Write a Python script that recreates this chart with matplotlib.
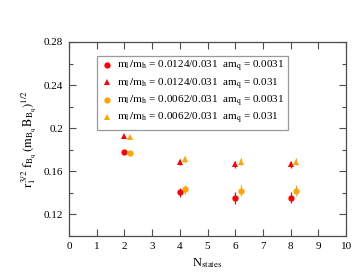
import numpy as np
import matplotlib
matplotlib.use("Agg")
import matplotlib.pyplot as plt
from matplotlib.ticker import MultipleLocator

plt.rcParams["font.family"] = ["Liberation Serif", "DejaVu Serif"]
plt.rcParams["mathtext.fontset"] = "stix"

# -- data
n_states = [2, 4, 6, 8]
shift = 0.2

red_circ = [0.1777, 0.1405, 0.1349, 0.1357]
red_circ_err = [0.0010, 0.0040, 0.0055, 0.0050]
red_tri = [0.1930, 0.1689, 0.1665, 0.1665]
red_tri_err = [0.0010, 0.0030, 0.0030, 0.0030]
orng_circ = [0.1773, 0.1433, 0.1420, 0.1420]
orng_circ_err = [0.0010, 0.0040, 0.0050, 0.0050]
orng_tri = [0.1920, 0.1710, 0.1690, 0.1690]
orng_tri_err = [0.0010, 0.0030, 0.0030, 0.0030]

labels = [
    r"$\mathrm{m_l\,/m_h}$ = 0.0124/0.031  am$_\mathrm{q}$ = 0.0031",
    r"$\mathrm{m_l\,/m_h}$ = 0.0124/0.031  am$_\mathrm{q}$ = 0.031",
    r"$\mathrm{m_l\,/m_h}$ = 0.0062/0.031  am$_\mathrm{q}$ = 0.0031",
    r"$\mathrm{m_l\,/m_h}$ = 0.0062/0.031  am$_\mathrm{q}$ = 0.031",
]

RED = "#ff0000"
ORANGE = "#ffa500"

f = plt.figure(figsize=(3.59, 2.78), dpi=100)
ax = f.add_axes([0.192, 0.151, 0.772, 0.698])

x = np.array(n_states, dtype=float)
series = [
    (x, red_circ, red_circ_err, RED, "o"),
    (x, red_tri, red_tri_err, RED, "^"),
    (x + shift, orng_circ, orng_circ_err, ORANGE, "o"),
    (x + shift, orng_tri, orng_tri_err, ORANGE, "^"),
]
handles = []
for (xs, ys, es, c, m), lab in zip(series, labels):
    cont = ax.errorbar(xs, ys, yerr=es, fmt=m, color=c, ms=4.5, mew=0,
                       ecolor=c, elinewidth=0.8, capsize=2.2, capthick=0.8,
                       label=lab)
    handles.append(cont[0])

ax.set_xlim(0, 10)
ax.set_ylim(0.1, 0.28)
ax.xaxis.set_major_locator(MultipleLocator(1))
ax.yaxis.set_minor_locator(MultipleLocator(0.02))
ax.set_yticks([0.12, 0.16, 0.2, 0.24, 0.28])
ax.set_yticklabels(["0.12", "0.16", "0.2", "0.24", "0.28"])

ax.tick_params(which="both", direction="in", top=True, right=True,
               labelsize=8, color="0.3", pad=4)
ax.tick_params(which="major", length=5, width=0.8)
ax.tick_params(which="minor", length=3, width=0.8)
for s in ax.spines.values():
    s.set_color("0.3")
    s.set_linewidth(0.9)

ax.set_xlabel(r"N$_\mathrm{states}$", fontsize=9, labelpad=4)
ax.set_ylabel(r"$\mathrm{r_1^{\,3/2}\ f_{B_q}\,(m_{B_q}\,B_{B_q})^{1/2}}$",
              fontsize=9, labelpad=4)

leg = ax.legend(handles=handles, labels=labels, loc="upper left",
                bbox_to_anchor=(0.101, 0.928), borderaxespad=0,
                numpoints=1, fontsize=8, fancybox=False, frameon=True,
                handletextpad=0.3, handlelength=1.2, labelspacing=0.2,
                borderpad=0.3)
leg.get_frame().set_edgecolor("0.5")
leg.get_frame().set_linewidth(0.9)

plt.savefig("out.png", dpi=100)
